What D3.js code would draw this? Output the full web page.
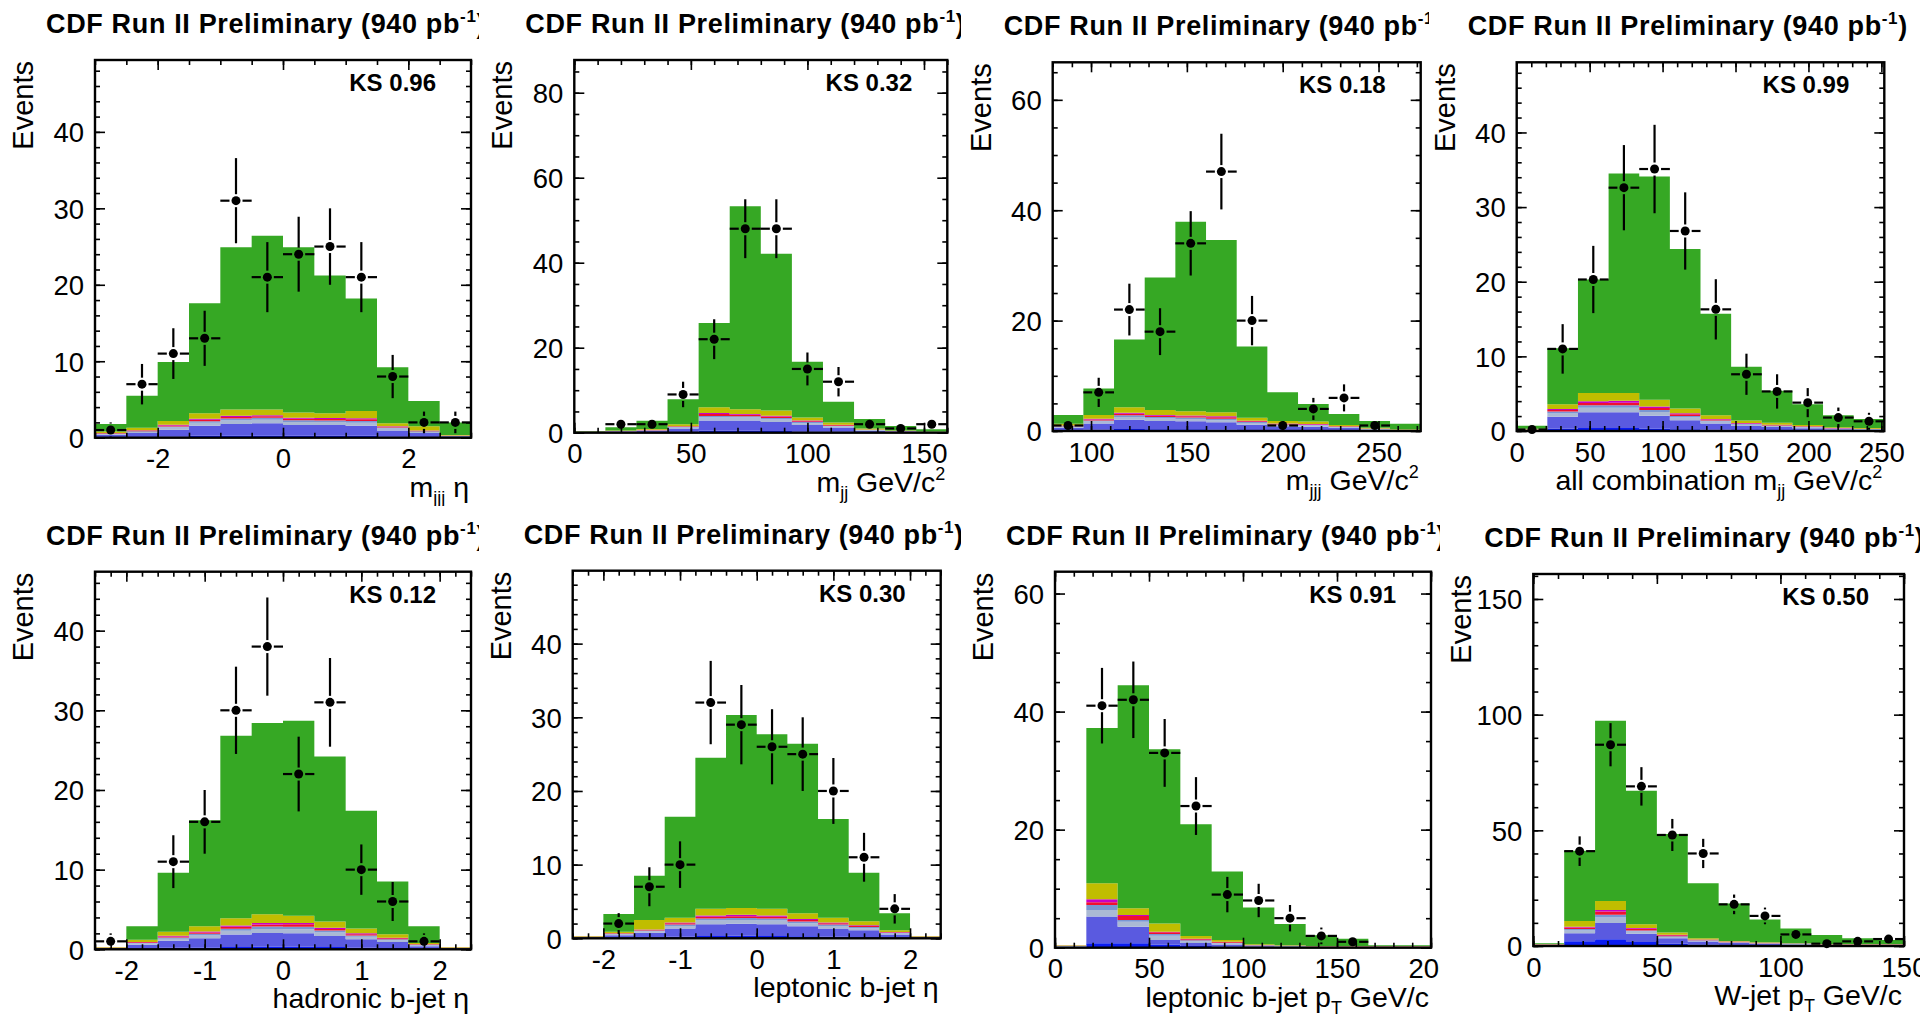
<!DOCTYPE html>
<html>
<head>
<meta charset="utf-8">
<script src="https://cdn.jsdelivr.net/npm/d3@7"></script>
<style>
  html, body { margin: 0; padding: 0; background: #fff; }
  svg { display: block; }
  text { font-family: "Liberation Sans", Arial, Helvetica, sans-serif; fill: #000; }
</style>
</head>
<body>
<svg id="chart" width="1920" height="1019"></svg>
<script>
// ---------------------------------------------------------------------------
// Histogram contents. Each panel has 12 equal-width bins.
// Background rows are stacked bottom -> top, the signal sits on top of them.
// ---------------------------------------------------------------------------

// m_jjj eta
const etaJjjData   = [1, 7, 11, 13, 31, 21, 24, 25, 21, 8, 2, 2];
const etaJjjSignal = [1.0, 4.2, 7.7, 14.4, 21.2, 22.7, 21.6, 18.0, 14.7, 7.3, 3.3, 1.65];
const etaJjjBkg = [
  [0.1, 0.1, 0.15, 0.25, 0.3, 0.3, 0.25, 0.25, 0.25, 0.15, 0.1, 0.05],
  [0.3, 0.5, 0.9, 1.3, 1.5, 1.6, 1.4, 1.4, 1.3, 0.8, 0.5, 0.15],
  [0.1, 0.15, 0.27, 0.4, 0.45, 0.45, 0.4, 0.4, 0.4, 0.25, 0.15, 0.05],
  [0.05, 0.1, 0.15, 0.2, 0.25, 0.25, 0.22, 0.2, 0.25, 0.12, 0.08, 0.02],
  [0.05, 0.08, 0.13, 0.2, 0.22, 0.2, 0.2, 0.2, 0.22, 0.1, 0.07, 0.02],
  [0.02, 0.05, 0.1, 0.12, 0.15, 0.15, 0.13, 0.12, 0.13, 0.08, 0.05, 0.01],
  [0.18, 0.32, 0.5, 0.73, 0.83, 0.75, 0.7, 0.63, 0.95, 0.4, 0.55, 0.05]
];
const etaJjjXTicks = [-2, 0, 2];
const etaJjjYTicks = [0, 10, 20, 30, 40];

// m_jj
const mjjData   = [null, 2, 2, 9, 22, 48, 48, 15, 12, 2, 1, 2];
const mjjSignal = [0.1, 0.8, 1.9, 5.9, 19.8, 47.8, 36.9, 13.1, 4.9, 2.2, 1.1, 0.5];
const mjjBkg = [
  [0.04, 0.04, 0.07, 0.16, 0.45, 0.45, 0.4, 0.3, 0.2, 0.08, 0.04, 0.03],
  [0.14, 0.2, 0.36, 0.8, 2.4, 2.4, 2.1, 1.5, 1.0, 0.4, 0.2, 0.12],
  [0.04, 0.06, 0.11, 0.24, 0.7, 0.7, 0.6, 0.45, 0.3, 0.12, 0.06, 0.04],
  [0.02, 0.04, 0.06, 0.14, 0.4, 0.35, 0.35, 0.25, 0.15, 0.07, 0.03, 0.02],
  [0.02, 0.03, 0.05, 0.12, 0.45, 0.3, 0.35, 0.2, 0.15, 0.06, 0.03, 0.02],
  [0.01, 0.02, 0.04, 0.08, 0.25, 0.2, 0.2, 0.15, 0.1, 0.04, 0.02, 0.01],
  [0.03, 0.11, 0.21, 0.46, 1.35, 1.1, 1.2, 0.75, 0.5, 0.23, 0.12, 0.06]
];
const mjjXTicks = [0, 50, 100, 150];
const mjjYTicks = [0, 20, 40, 60, 80];

// m_jjj
const mjjjData   = [1, 7, 22, 18, 34, 47, 20, 1, 4, 6, 1, null];
const mjjjSignal = [1.6, 4.8, 12.3, 24.0, 34.3, 31.2, 12.9, 5.2, 3.2, 2.0, 1.2, 1.0];
const mjjjBkg = [
  [0.1, 0.22, 0.35, 0.3, 0.3, 0.27, 0.2, 0.15, 0.13, 0.09, 0.05, 0.03],
  [0.5, 1.15, 1.7, 1.5, 1.45, 1.3, 0.95, 0.7, 0.65, 0.44, 0.24, 0.12],
  [0.15, 0.35, 0.5, 0.45, 0.43, 0.4, 0.3, 0.22, 0.2, 0.13, 0.07, 0.04],
  [0.1, 0.2, 0.3, 0.27, 0.25, 0.24, 0.17, 0.12, 0.12, 0.08, 0.04, 0.02],
  [0.08, 0.18, 0.28, 0.25, 0.22, 0.3, 0.15, 0.11, 0.1, 0.07, 0.04, 0.02],
  [0.05, 0.12, 0.17, 0.15, 0.15, 0.14, 0.1, 0.07, 0.07, 0.04, 0.02, 0.01],
  [0.32, 0.68, 1.0, 0.88, 0.8, 0.75, 0.53, 0.43, 0.43, 0.25, 0.14, 0.06]
];
const mjjjXTicks = [100, 150, 200, 250];
const mjjjYTicks = [0, 20, 40, 60];

// all combination m_jj
const allMjjData   = [0.2, 11.0, 20.3, 32.6, 35.1, 26.8, 16.3, 7.6, 5.3, 3.8, 1.8, 1.3];
const allMjjSignal = [0.4, 7.5, 15.2, 29.4, 29.9, 21.4, 13.6, 7.2, 4.3, 2.8, 1.6, 1.2];
const allMjjBkg = [
  [0.03, 0.3, 0.4, 0.4, 0.33, 0.24, 0.17, 0.11, 0.09, 0.06, 0.04, 0.03],
  [0.12, 1.6, 2.1, 2.1, 1.7, 1.2, 0.85, 0.56, 0.44, 0.32, 0.2, 0.16],
  [0.04, 0.45, 0.6, 0.6, 0.5, 0.36, 0.25, 0.17, 0.13, 0.1, 0.06, 0.05],
  [0.02, 0.25, 0.35, 0.35, 0.3, 0.2, 0.15, 0.1, 0.08, 0.06, 0.04, 0.03],
  [0.02, 0.2, 0.3, 0.35, 0.25, 0.25, 0.12, 0.08, 0.07, 0.05, 0.03, 0.02],
  [0.01, 0.15, 0.25, 0.25, 0.2, 0.12, 0.08, 0.06, 0.04, 0.03, 0.02, 0.02],
  [0.06, 0.65, 1.1, 1.05, 0.92, 0.63, 0.48, 0.32, 0.25, 0.18, 0.11, 0.09]
];
const allMjjXTicks = [0, 50, 100, 150, 200, 250];
const allMjjYTicks = [0, 10, 20, 30, 40];

// hadronic b-jet eta
const hadEtaData   = [1, null, 11, 16, 30, 38, 22, 31, 10, 6, 1, null];
const hadEtaSignal = [0.0, 1.7, 7.4, 13.3, 22.9, 24.0, 24.5, 20.7, 14.8, 6.6, 2.1, 0.0];
const hadEtaBkg = [
  [0.03, 0.1, 0.18, 0.23, 0.3, 0.35, 0.33, 0.28, 0.2, 0.15, 0.06, 0.03],
  [0.12, 0.48, 0.88, 1.16, 1.55, 1.7, 1.7, 1.4, 1.05, 0.76, 0.32, 0.12],
  [0.04, 0.14, 0.26, 0.35, 0.47, 0.5, 0.5, 0.42, 0.31, 0.23, 0.1, 0.04],
  [0.02, 0.08, 0.15, 0.2, 0.27, 0.3, 0.3, 0.25, 0.18, 0.13, 0.06, 0.02],
  [0.02, 0.07, 0.13, 0.17, 0.25, 0.25, 0.3, 0.2, 0.16, 0.11, 0.05, 0.02],
  [0.01, 0.05, 0.09, 0.12, 0.16, 0.2, 0.17, 0.14, 0.1, 0.08, 0.03, 0.01],
  [0.06, 0.28, 0.51, 0.67, 0.9, 1.1, 0.9, 0.81, 0.6, 0.44, 0.18, 0.06]
];
const hadEtaXTicks = [-2, -1, 0, 1, 2];
const hadEtaYTicks = [0, 10, 20, 30, 40];

// leptonic b-jet eta
const lepEtaData   = [null, 2, 7, 10, 32, 29, 26, 25, 20, 11, 4, null];
const lepEtaSignal = [0.0, 2.4, 6.0, 13.7, 20.5, 26.2, 23.7, 23.0, 13.4, 6.6, 2.3, 0.0];
const lepEtaBkg = [
  [0.03, 0.07, 0.15, 0.22, 0.32, 0.33, 0.32, 0.27, 0.22, 0.18, 0.09, 0.03],
  [0.12, 0.36, 0.6, 1.1, 1.6, 1.65, 1.6, 1.35, 1.1, 0.9, 0.44, 0.12],
  [0.04, 0.11, 0.2, 0.34, 0.48, 0.5, 0.48, 0.41, 0.34, 0.28, 0.13, 0.04],
  [0.02, 0.06, 0.1, 0.2, 0.28, 0.28, 0.28, 0.24, 0.2, 0.16, 0.08, 0.02],
  [0.02, 0.05, 0.1, 0.17, 0.25, 0.25, 0.25, 0.2, 0.17, 0.14, 0.07, 0.02],
  [0.01, 0.04, 0.05, 0.12, 0.17, 0.17, 0.17, 0.14, 0.12, 0.1, 0.04, 0.01],
  [0.06, 0.21, 1.3, 0.65, 0.9, 0.92, 0.9, 0.79, 0.65, 0.54, 0.25, 0.06]
];
const lepEtaXTicks = [-2, -1, 0, 1, 2];
const lepEtaYTicks = [0, 10, 20, 30, 40];

// leptonic b-jet pT
const lepPtData   = [null, 41, 42, 33, 24, 9, 8, 5, 2, 1, null, null];
const lepPtSignal = [0.0, 26.3, 37.8, 29.5, 18.9, 11.6, 6.2, 3.6, 1.8, 1.2, 0.1, 0.1];
const lepPtBkg = [
  [0.06, 0.75, 0.75, 0.56, 0.3, 0.2, 0.1, 0.06, 0.05, 0.05, 0.05, 0.05],
  [0.12, 4.55, 2.8, 0.75, 0.5, 0.35, 0.15, 0.12, 0.09, 0.09, 0.09, 0.09],
  [0.06, 1.1, 0.85, 0.7, 0.3, 0.2, 0.1, 0.06, 0.05, 0.05, 0.05, 0.05],
  [0.03, 0.85, 0.3, 0.3, 0.15, 0.1, 0.05, 0.03, 0.02, 0.02, 0.02, 0.02],
  [0.03, 0.45, 0.68, 0.3, 0.2, 0.1, 0.05, 0.03, 0.02, 0.02, 0.02, 0.02],
  [0.02, 0.5, 0.15, 0.1, 0.05, 0.05, 0.02, 0.02, 0.01, 0.01, 0.01, 0.01],
  [0.08, 2.7, 1.15, 1.4, 0.5, 0.3, 0.13, 0.08, 0.06, 0.06, 0.06, 0.06]
];
const lepPtXTicks = [0, 50, 100, 150, 200];
const lepPtYTicks = [0, 20, 40, 60];

// W-jet pT
const wJetPtData   = [null, 41, 87, 69, 48, 40, 18, 13, 5, 1, 2, 3];
const wJetPtSignal = [0.3, 30.4, 77.9, 57.7, 42.6, 23.8, 16.2, 9.9, 6.4, 3.9, 2.4, 1.7];
const wJetPtBkg = [
  [0.2, 2.0, 2.9, 1.7, 1.1, 0.6, 0.4, 0.3, 0.25, 0.2, 0.2, 0.2],
  [0.35, 3.5, 7.0, 3.6, 2.2, 1.3, 0.85, 0.6, 0.45, 0.35, 0.35, 0.35],
  [0.1, 1.2, 2.4, 1.0, 0.6, 0.35, 0.25, 0.2, 0.15, 0.1, 0.1, 0.1],
  [0.05, 0.6, 1.2, 0.4, 0.3, 0.2, 0.12, 0.1, 0.07, 0.05, 0.05, 0.05],
  [0.07, 0.7, 1.4, 0.8, 0.5, 0.3, 0.2, 0.12, 0.09, 0.07, 0.07, 0.07],
  [0.03, 0.35, 0.7, 0.3, 0.2, 0.1, 0.08, 0.06, 0.04, 0.03, 0.03, 0.03],
  [0.1, 2.45, 3.9, 1.6, 0.9, 0.45, 0.3, 0.22, 0.15, 0.1, 0.1, 0.1]
];
const wJetPtXTicks = [0, 50, 100, 150];
const wJetPtYTicks = [0, 50, 100, 150];

// Fill colours of the stacked layers, bottom -> top (last one is the signal).
const layerColors = ["#0a1cf2", "#5a5ae0", "#aab9d4", "#7a96d2", "#f0102e", "#c800c8", "#c0bd00", "#36a824"];

// ---------------------------------------------------------------------------
// Panel layout (pixel frame of each plot, axis ranges, captions)
// ---------------------------------------------------------------------------
const panels = [
  { data: etaJjjData, signal: etaJjjSignal, bkg: etaJjjBkg, xTicks: etaJjjXTicks, yTicks: etaJjjYTicks,
    xDomain: [-3, 3], yMax: 49.4, xMinor: 0.5, yMinor: 2, ks: "KS 0.96",
    xLabel: [["m"], ["jjj", "sub"], [" η"]],
    frame: { l: 95, t: 60, r: 471, b: 437.7 }, clip: [0, 0, 479, 506] },
  { data: mjjData, signal: mjjSignal, bkg: mjjBkg, xTicks: mjjXTicks, yTicks: mjjYTicks,
    xDomain: [0, 160], yMax: 87.7, xMinor: 10, yMinor: 5, ks: "KS 0.32",
    xLabel: [["m"], ["jj", "sub"], ["  GeV/c"], ["2", "sup"]],
    frame: { l: 574.3, t: 60, r: 947.3, b: 432.7 }, clip: [480, 0, 481, 506] },
  { data: mjjjData, signal: mjjjSignal, bkg: mjjjBkg, xTicks: mjjjXTicks, yTicks: mjjjYTicks,
    xDomain: [80, 272], yMax: 66.8, xMinor: 10, yMinor: 5, ks: "KS 0.18",
    xLabel: [["m"], ["jjj", "sub"], [" GeV/c"], ["2", "sup"]],
    frame: { l: 1052.7, t: 62.3, r: 1420.7, b: 431 }, clip: [962, 0, 467, 506] },
  { data: allMjjData, signal: allMjjSignal, bkg: allMjjBkg, xTicks: allMjjXTicks, yTicks: allMjjYTicks,
    xDomain: [0, 252], yMax: 49.4, xMinor: 10, yMinor: 2, ks: "KS 0.99",
    xLabel: [["all combination m"], ["jj", "sub"], [" GeV/c"], ["2", "sup"]],
    frame: { l: 1516.7, t: 62.3, r: 1884.3, b: 431 }, clip: [1430, 0, 490, 506] },
  { data: hadEtaData, signal: hadEtaSignal, bkg: hadEtaBkg, xTicks: hadEtaXTicks, yTicks: hadEtaYTicks,
    xDomain: [-2.4, 2.4], yMax: 47.4, xMinor: 0.2, yMinor: 2, ks: "KS 0.12",
    xLabel: [["hadronic b-jet η"]],
    frame: { l: 95, t: 571.7, r: 471, b: 949.3 }, clip: [0, 507, 479, 512] },
  { data: lepEtaData, signal: lepEtaSignal, bkg: lepEtaBkg, xTicks: lepEtaXTicks, yTicks: lepEtaYTicks,
    xDomain: [-2.4, 2.4], yMax: 49.9, xMinor: 0.2, yMinor: 2, ks: "KS 0.30",
    xLabel: [["leptonic b-jet η"]],
    frame: { l: 572.7, t: 570.7, r: 940.7, b: 938.3 }, clip: [480, 507, 481, 512] },
  { data: lepPtData, signal: lepPtSignal, bkg: lepPtBkg, xTicks: lepPtXTicks, yTicks: lepPtYTicks,
    xDomain: [0, 200], yMax: 63.7, xMinor: 10, yMinor: 5, ks: "KS 0.91",
    xLabel: [["leptonic b-jet p"], ["T", "sub"], [" GeV/c"]],
    frame: { l: 1055, t: 571.7, r: 1431, b: 947.7 }, clip: [962, 507, 478, 512] },
  { data: wJetPtData, signal: wJetPtSignal, bkg: wJetPtBkg, xTicks: wJetPtXTicks, yTicks: wJetPtYTicks,
    xDomain: [0, 150], yMax: 160.8, xMinor: 10, yMinor: 10, ks: "KS 0.50",
    xLabel: [["W-jet p"], ["T", "sub"], [" GeV/c"]],
    frame: { l: 1533.3, t: 574, r: 1904, b: 946 }, clip: [1441, 507, 479, 512] }
];

const svg = d3.select("#chart");
const defs = svg.append("defs");
const layerKeys = ["b1", "b2", "b3", "b4", "b5", "b6", "b7", "signal"];

// Writes a caption made of plain / subscript / superscript pieces.
function richText(sel, parts, smallSize, shift) {
  let offset = 0;
  parts.forEach(([txt, kind]) => {
    const target = kind === "sub" ? shift * 0.6 : kind === "sup" ? -shift : 0;
    const ts = sel.append("tspan").text(txt).attr("dy", target - offset);
    if (kind) ts.attr("font-size", smallSize);
    offset = target;
  });
}

function stepRange(lo, hi, step) {
  const out = [];
  const start = Math.ceil(lo / step - 1e-9);
  const end = Math.floor(hi / step + 1e-9);
  for (let k = start; k <= end; k++) out.push(+(k * step).toFixed(6));
  return out;
}

// plain hyphen for negative tick labels
const tickLabel = d => String(d);

panels.forEach((p, idx) => {
  const f = p.frame;
  const clipId = "panel-clip-" + idx;
  defs.append("clipPath").attr("id", clipId)
    .append("rect").attr("x", p.clip[0]).attr("y", p.clip[1]).attr("width", p.clip[2]).attr("height", p.clip[3]);

  const g = svg.append("g").attr("clip-path", `url(#${clipId})`);
  const x = d3.scaleLinear().domain(p.xDomain).range([f.l, f.r]);
  const y = d3.scaleLinear().domain([0, p.yMax]).range([f.b, f.t]);

  const n = p.data.length;
  const edges = d3.range(n + 1).map(i => p.xDomain[0] + (p.xDomain[1] - p.xDomain[0]) * i / n);

  // stacked histogram
  const rows = d3.range(n).map(i => {
    const o = {};
    layerKeys.forEach((k, j) => { o[k] = j < p.bkg.length ? p.bkg[j][i] : p.signal[i]; });
    return o;
  });
  const series = d3.stack().keys(layerKeys)(rows);
  const area = d3.area().x(d => d.x).y0(d => d.y0).y1(d => d.y1);
  series.forEach((s, j) => {
    const pts = [];
    s.forEach((d, i) => {
      pts.push({ x: x(edges[i]), y0: y(d[0]), y1: y(d[1]) });
      pts.push({ x: x(edges[i + 1]), y0: y(d[0]), y1: y(d[1]) });
    });
    g.append("path").attr("d", area(pts)).attr("fill", layerColors[j]);
  });

  // axes: ticks on all four sides, pointing inward
  const yMinorVals = stepRange(0, p.yMax, p.yMinor);
  const xMinorVals = stepRange(p.xDomain[0], p.xDomain[1], p.xMinor);
  const axisGroups = [];
  axisGroups.push(g.append("g").attr("transform", `translate(${f.l},0)`).call(d3.axisLeft(y).tickValues(yMinorVals).tickSize(-5).tickFormat("")));
  axisGroups.push(g.append("g").attr("transform", `translate(${f.r},0)`).call(d3.axisRight(y).tickValues(yMinorVals).tickSize(-5).tickFormat("")));
  axisGroups.push(g.append("g").attr("transform", `translate(${f.r},0)`).call(d3.axisRight(y).tickValues(p.yTicks).tickSize(-10).tickFormat("")));
  axisGroups.push(g.append("g").attr("transform", `translate(0,${f.b})`).call(d3.axisBottom(x).tickValues(xMinorVals).tickSize(-5).tickFormat("")));
  axisGroups.push(g.append("g").attr("transform", `translate(0,${f.t})`).call(d3.axisTop(x).tickValues(xMinorVals).tickSize(-5).tickFormat("")));
  axisGroups.push(g.append("g").attr("transform", `translate(0,${f.t})`).call(d3.axisTop(x).tickValues(p.xTicks).tickSize(-10).tickFormat("")));
  const yAxis = g.append("g").attr("transform", `translate(${f.l},0)`)
    .call(d3.axisLeft(y).tickValues(p.yTicks).tickSize(-10).tickPadding(11).tickFormat(tickLabel));
  const xAxis = g.append("g").attr("transform", `translate(0,${f.b})`)
    .call(d3.axisBottom(x).tickValues(p.xTicks).tickSize(-10).tickPadding(11).tickFormat(tickLabel));
  axisGroups.push(yAxis, xAxis);
  axisGroups.forEach(a => {
    a.select(".domain").remove();
    a.selectAll(".tick line").attr("stroke", "#000").attr("stroke-width", 1.6);
    a.selectAll(".tick text").attr("font-size", 27.5).attr("font-family", null).attr("fill", "#000");
  });
  xAxis.selectAll(".tick text").attr("dy", "0.72em");
  yAxis.selectAll(".tick text").attr("dy", "0.36em");

  // frame
  g.append("rect").attr("x", f.l).attr("y", f.t).attr("width", f.r - f.l).attr("height", f.b - f.t)
    .attr("fill", "none").attr("stroke", "#000").attr("stroke-width", 2.4);

  // data points with Poisson error bars
  const gap = 6.5;
  const pts = g.append("g");
  p.data.forEach((v, i) => {
    if (v === null) return;
    const cx = x((edges[i] + edges[i + 1]) / 2);
    const cy = y(v);
    const e = Math.sqrt(v);
    const segs = [
      [x(edges[i]), cy, cx - gap, cy],
      [cx + gap, cy, x(edges[i + 1]), cy],
      [cx, y(v + e), cx, cy - gap],
      [cx, cy + gap, cx, y(Math.max(v - e, 0))]
    ];
    segs.forEach(([x1, y1, x2, y2]) => {
      if (Math.hypot(x2 - x1, y2 - y1) < 0.5 || (x2 < x1) || (y2 < y1)) return;
      pts.append("line").attr("x1", x1).attr("y1", y1).attr("x2", x2).attr("y2", y2)
        .attr("stroke", "#000").attr("stroke-width", 2.2);
    });
    pts.append("circle").attr("cx", cx).attr("cy", cy).attr("r", 4.5).attr("fill", "#000");
  });

  // captions
  const title = g.append("text").attr("x", f.l - 49).attr("y", f.t - 27)
    .attr("font-size", 27).attr("font-weight", "bold").attr("letter-spacing", 0.65);
  richText(title, [["CDF Run II Preliminary (940 pb"], ["-1", "sup"], [")"]], 17, 11);

  g.append("text").attr("x", f.r - 35).attr("y", f.t + 31).attr("text-anchor", "end")
    .attr("font-size", 24).attr("font-weight", "bold").text(p.ks);

  const xl = g.append("text").attr("x", f.r - 2).attr("y", f.b + 59).attr("text-anchor", "end")
    .attr("font-size", 28.5);
  richText(xl, p.xLabel, 18, 12);

  g.append("text").attr("transform", `translate(${f.l - 62},${f.t + 1}) rotate(-90)`)
    .attr("text-anchor", "end").attr("font-size", 29).text("Events");
});
</script>
</body>
</html>
